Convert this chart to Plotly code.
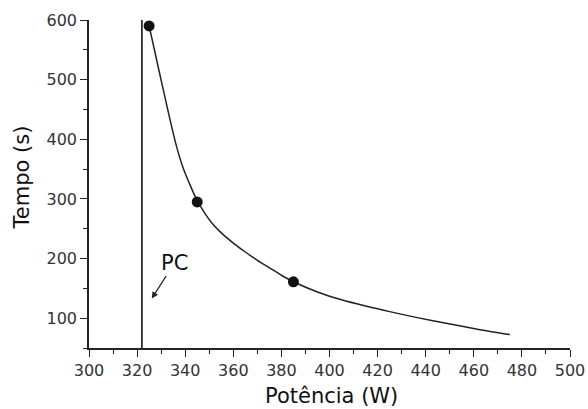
import plotly.graph_objects as go

# Measured points
power_pts = [325, 345, 385]
time_pts = [590, 295, 161]

# Fitted curve
curve_power = [325, 329, 333, 336, 339, 342, 345, 348, 351, 355, 360, 365, 370, 375, 380, 385,
               395, 405, 415, 425, 437, 449, 461, 475]
curve_time = [590, 517, 445, 394, 353.5, 323.5, 297, 277, 260, 243, 226, 211, 197, 184.5, 172, 161,
              144, 131, 120.5, 111, 100.5, 91, 82, 72.5]

# Critical power vertical line
pc_x = [322, 322]
pc_y = [50, 600]

x_ticks = [300, 320, 340, 360, 380, 400, 420, 440, 460, 480, 500]
y_ticks = [100, 200, 300, 400, 500, 600]

FONT = "DejaVu Sans, Liberation Sans, Arial, sans-serif"

fig = go.Figure()
fig.add_trace(go.Scatter(x=pc_x, y=pc_y, mode="lines",
                         line=dict(color="#111111", width=1.6), showlegend=False))
fig.add_trace(go.Scatter(x=curve_power, y=curve_time, mode="lines",
                         line=dict(color="#222222", width=1.5, shape="spline", smoothing=0.8),
                         showlegend=False))
fig.add_trace(go.Scatter(x=power_pts, y=time_pts, mode="markers",
                         marker=dict(color="#111111", size=11), showlegend=False))

fig.add_annotation(x=326.1, y=133, xref="x", yref="y", text="PC",
                   showarrow=True, arrowhead=2, arrowsize=1, arrowwidth=1.3,
                   arrowcolor="#222222", ax=23, ay=-36,
                   font=dict(family=FONT, size=21, color="#111111"))

# Axis titles
fig.add_annotation(x=0.5, y=0, xref="paper", yref="paper", text="Potência (W)",
                   showarrow=False, xanchor="center", yanchor="middle", yshift=-48, xshift=2,
                   font=dict(family=FONT, size=21, color="#111111"))
fig.add_annotation(x=0, y=0.52, xref="paper", yref="paper", text="Tempo (s)",
                   showarrow=False, xanchor="center", yanchor="middle", xshift=-67,
                   textangle=-90,
                   font=dict(family=FONT, size=21, color="#111111"))

axis_font = dict(family=FONT, size=16, color="#333333")

fig.update_xaxes(range=[300, 500], tickvals=x_ticks, ticktext=[str(v) for v in x_ticks],
                 showgrid=False, zeroline=False, showline=True, linecolor="#222222",
                 linewidth=1.5, ticks="outside", ticklen=7, tickwidth=1.3,
                 tickcolor="#222222", tickfont=axis_font, automargin=False,
                 minor=dict(ticks="outside", ticklen=4, dtick=10, tick0=300,
                            tickcolor="#222222", tickwidth=1.2))
fig.update_yaxes(range=[50, 600], tickvals=y_ticks, ticktext=[str(v) for v in y_ticks],
                 showgrid=False, zeroline=False, showline=True, linecolor="#222222",
                 linewidth=1.5, ticks="outside", ticklen=7, tickwidth=1.3,
                 tickcolor="#222222", tickfont=axis_font, automargin=False,
                 minor=dict(ticks="outside", ticklen=4, dtick=50, tick0=50,
                            tickcolor="#222222", tickwidth=1.2))

fig.update_layout(width=588, height=409, plot_bgcolor="white", paper_bgcolor="white",
                  margin=dict(l=89, r=18, t=20, b=61), showlegend=False)

# remove the default page margin so the 588x409 figure fills the window exactly
fig.write_html("out.html", config={"displayModeBar": False},
               post_script="document.body.style.margin='0';document.body.style.overflow='hidden';")
